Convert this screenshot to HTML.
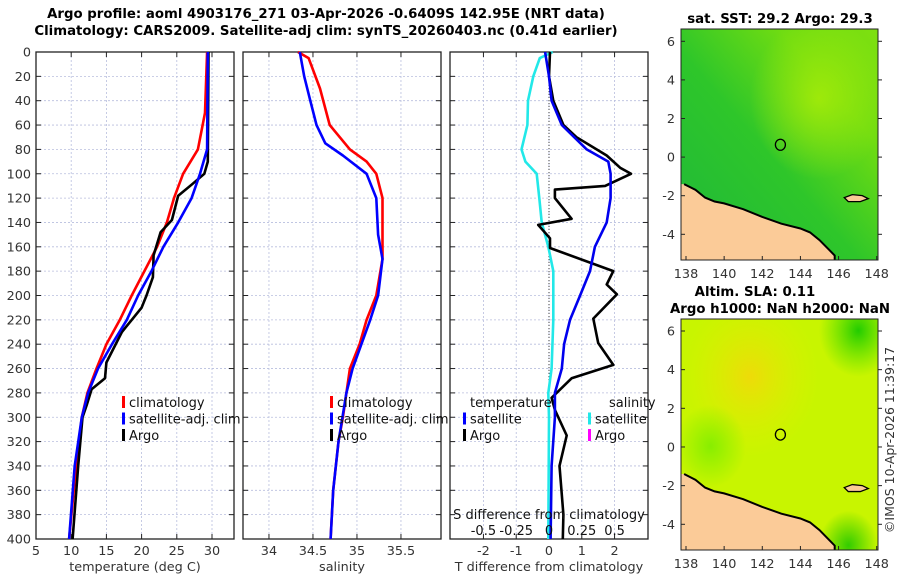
<!DOCTYPE html>
<html><head><meta charset="utf-8"><style>
html,body{margin:0;padding:0;background:#fff;}
svg{display:block;font-family:"DejaVu Sans","Liberation Sans",sans-serif;}
.tk{font-size:12.8px;fill:#333;}
.ttl{font-size:13.3px;font-weight:bold;fill:#000;}
.lg{font-size:13px;fill:#111;}
</style></head><body>
<svg id="fig" width="900" height="580" viewBox="0 0 900 580" xmlns="http://www.w3.org/2000/svg">
<defs>
<linearGradient id="sstg" x1="0" y1="1" x2="1" y2="0">
<stop offset="0" stop-color="#1fb83a"/><stop offset="0.45" stop-color="#2ec62a"/><stop offset="0.75" stop-color="#6fdc12"/><stop offset="1" stop-color="#7ee010"/></linearGradient>
<radialGradient id="sstb" cx="0.7" cy="0.3" r="0.35"><stop offset="0" stop-color="#a8ec08" stop-opacity="0.85"/><stop offset="1" stop-color="#a8ec08" stop-opacity="0"/></radialGradient>
<radialGradient id="slab" cx="0.35" cy="0.25" r="0.35"><stop offset="0" stop-color="#f2d80a" stop-opacity="0.9"/><stop offset="1" stop-color="#e0f000" stop-opacity="0"/></radialGradient>
<radialGradient id="slag" cx="0.9" cy="0.05" r="0.2"><stop offset="0" stop-color="#22cc00"/><stop offset="1" stop-color="#44dd00" stop-opacity="0"/></radialGradient>
<radialGradient id="slag2" cx="0.15" cy="0.55" r="0.18"><stop offset="0" stop-color="#88ee00"/><stop offset="1" stop-color="#88ee00" stop-opacity="0"/></radialGradient>
<radialGradient id="slag3" cx="0.85" cy="0.98" r="0.15"><stop offset="0" stop-color="#33cc00"/><stop offset="1" stop-color="#33cc00" stop-opacity="0"/></radialGradient>
</defs>
<g>
<text class="ttl" x="326" y="18" text-anchor="middle">Argo profile: aoml 4903176_271 03-Apr-2026 -0.6409S 142.95E (NRT data)</text>
<text class="ttl" x="326" y="35" text-anchor="middle">Climatology: CARS2009. Satellite-adj clim: synTS_20260403.nc (0.41d earlier)</text>
</g>
<g id="p1"></g>
<g id="p2"></g>
<g id="p3"></g>
<g id="m1"></g>
<g id="m2"></g>
<text class="tk" transform="translate(894,440) rotate(-90)" text-anchor="middle" style="font-size:12.5px">©IMOS 10-Apr-2026 11:39:17</text>
</svg>
<script>
// ---------- data ----------
const depthTicks = [0,20,40,60,80,100,120,140,160,180,200,220,240,260,280,300,320,340,360,380,400];
const tempTicks = [5,10,15,20,25,30];
const salTicks = [34,34.5,35,35.5];
const tdiffTicks = [-2,-1,0,1,2];
const sdiffTicks = [-0.5,-0.25,0,0.25,0.5];
const lonTicks = [138,140,142,144,146,148];
const latTicks = [-4,-2,0,2,4,6];

const climTdepth = [0,50,80,100,120,140,160,180,200,220,240,260,280,300,340,400];
const climT = [29.3,29.0,28.0,25.9,24.6,23.6,22.2,20.4,18.6,16.9,15.0,13.6,12.3,11.5,10.7,9.7];
const satTdepth = [0,80,100,120,140,160,180,200,220,240,260,280,300,340,400];
const satT = [29.4,29.3,28.3,27.1,25.2,23.1,21.4,19.5,17.9,15.8,13.8,12.4,11.5,10.5,9.7];
const argoTdepth = [0,90,100,109,118,138,148,167,185,200,210,220,230,255,268,277,290,300,340,400];
const argoT = [29.5,29.4,28.9,27.1,25.2,24.3,22.7,21.7,21.6,20.7,20.0,18.6,17.2,15.0,14.8,12.9,12.2,11.6,11.0,10.2];

const climSdepth = [0,5,30,60,80,90,100,120,170,200,220,240,260,300,320,360,400];
const climS = [34.33,34.45,34.58,34.69,34.92,35.11,35.22,35.29,35.29,35.22,35.11,35.03,34.92,34.84,34.79,34.73,34.70];
const satSdepth = [0,20,40,60,75,85,100,120,150,170,200,220,240,260,280,320,360,400];
const satS = [34.35,34.40,34.47,34.54,34.64,34.84,35.11,35.22,35.24,35.29,35.24,35.15,35.05,34.95,34.88,34.79,34.73,34.70];

const dTsatDepth = [0,20,40,60,80,90,100,120,140,160,180,200,220,240,260,280,300,340,400];
const dTsat = [-0.12,0,0.08,0.39,1.15,1.81,1.88,1.88,1.76,1.40,1.25,0.95,0.64,0.46,0.39,0.18,0.18,0.08,0.05];
const dTargoDepth = [0,20,40,60,70,85,95,100,110,113,120,137,142,153,161,180,191,199,219,239,257,268,284,294,315,340,380,400];
const dTargo = [0.03,0,0.13,0.44,0.84,1.76,2.17,2.5,1.71,0.18,0.18,0.69,-0.33,0.03,0.03,1.96,1.76,2.07,1.35,1.5,1.96,0.69,0.08,0.18,0.54,0.32,0.44,0.42];
const dSsatDepth = [0,5,20,40,60,80,90,100,120,140,160,180,220,260,280,300,400];
const dSsat = [0.028,-0.07,-0.12,-0.16,-0.165,-0.21,-0.18,-0.094,-0.074,-0.056,-0.005,0.033,0.033,0.02,-0.005,0,-0.005];

const coastLon = [137.9,138.5,139,139.5,140,141,142,143,144,144.5,145,145.5,145.8,145.8];
const coastLat = [-1.4,-1.7,-2.1,-2.3,-2.4,-2.7,-3.1,-3.45,-3.7,-3.9,-4.3,-4.8,-5.1,-5.35];
const floatLon = 142.95, floatLat = 0.64;

// ---------- helpers ----------
const NS='http://www.w3.org/2000/svg';
function mk(parent,tag,attrs){const e=document.createElementNS(NS,tag);for(const k in attrs)e.setAttribute(k,attrs[k]);parent.appendChild(e);return e;}
function txt(parent,x,y,s,cls,anchor){const t=mk(parent,'text',{x:x,y:y,class:cls,'text-anchor':anchor||'middle'});t.textContent=s;return t;}
const PT=52, PB=539;
const yD = d => PT + (d/400)*(PB-PT);

function panel(g,x0,x1,xmin,xmax,ticks,labels,xlabel,showY){
  const sx = v => x0 + (v-xmin)/(xmax-xmin)*(x1-x0);
  depthTicks.forEach(d=>{
    const l=mk(g,'line',{x1:x0,x2:x1,y1:yD(d),y2:yD(d),stroke:'#b8bede','stroke-width':0.8,'stroke-dasharray':'2,2'});
    
    
    mk(g,'line',{x1:x0,x2:x0+5,y1:yD(d),y2:yD(d),stroke:'#222'});
    mk(g,'line',{x1:x1-5,x2:x1,y1:yD(d),y2:yD(d),stroke:'#222'});
    if(showY){const t=txt(g,x0-5,yD(d)+4.5,String(d),'tk','end');
      
      }
  });
  ticks.forEach((v,i)=>{
    const X=sx(v);
    const l=mk(g,'line',{x1:X,x2:X,y1:PT,y2:PB,stroke:'#b8bede','stroke-width':0.8,'stroke-dasharray':'2,2'});
    
    
    mk(g,'line',{x1:X,x2:X,y1:PB-5,y2:PB,stroke:'#222'});
    mk(g,'line',{x1:X,x2:X,y1:PT,y2:PT+5,stroke:'#222'});
    if(labels){const t=txt(g,X,555,String(labels[i]),'tk');
      
      }
  });
  const r=mk(g,'rect',{x:x0,y:PT,width:x1-x0,height:PB-PT,fill:'none',stroke:'#222','stroke-width':1.3});
  
  
  const xl=txt(g,(x0+x1)/2,571,xlabel,'tk');
  
  
  return sx;
}
function line(g,sx,vals,depths,color,name,w){
  const pts=vals.map((v,i)=>sx(v).toFixed(1)+','+yD(depths[i]).toFixed(1)).join(' ');
  const p=mk(g,'polyline',{points:pts,fill:'none',stroke:color,'stroke-width':w||2.6,'stroke-linejoin':'round'});
  
  
}
function legend(g,x,y,items){
  items.forEach((it,i)=>{
    const yy=y+i*16.5;
    if(it.c) mk(g,'rect',{x:x-7,y:yy-10,width:3,height:12,fill:it.c});
    const t=txt(g,x,yy+1,it.t,'lg','start');
    
    
  });
}

// ---------- panel 1 ----------
const g1=document.getElementById('p1');
const sx1=panel(g1,36,234,5,33.125,tempTicks,tempTicks,'temperature (deg C)',true);
line(g1,sx1,climT,climTdepth,'#ff0000','climatology-temp-line');
line(g1,sx1,argoT,argoTdepth,'#000000','argo-temp-line');
line(g1,sx1,satT,satTdepth,'#0000ff','satellite-temp-line');
legend(g1,129,406,[{c:'#ff0000',t:'climatology'},{c:'#0000ff',t:'satellite-adj. clim'},{c:'#000',t:'Argo'}]);

// ---------- panel 2 ----------
const g2=document.getElementById('p2');
const sx2=panel(g2,243,441,33.705,35.955,salTicks,salTicks,'salinity',false);
line(g2,sx2,climS,climSdepth,'#ff0000','climatology-sal-line');
line(g2,sx2,satS,satSdepth,'#0000ff','satellite-sal-line');
legend(g2,337,406,[{c:'#ff0000',t:'climatology'},{c:'#0000ff',t:'satellite-adj. clim'},{c:'#000',t:'Argo'}]);

// ---------- panel 3 ----------
const g3=document.getElementById('p3');
const sx3=panel(g3,450,648,-3.02,3.02,tdiffTicks,tdiffTicks,'T difference from climatology',false);
const sxS = v => sx3(v*4);
mk(g3,'line',{x1:sx3(0),x2:sx3(0),y1:PT,y2:PB,stroke:'#444','stroke-width':1,'stroke-dasharray':'1,2'});
line(g3,sxS,dSsat,dSsatDepth,'#22e8e8','salinity-sat-diff-line');
line(g3,sx3,dTargo,dTargoDepth,'#000000','argo-temp-diff-line');
line(g3,sx3,dTsat,dTsatDepth,'#0000ee','satellite-temp-diff-line');
legend(g3,470,406,[{t:'temperature'},{c:'#0000ff',t:'satellite'},{c:'#000',t:'Argo'}]);
legend(g3,595,406,[{t:'salinity'},{c:'#22e8e8',t:'satellite'},{c:'#ff00ff',t:'Argo'}]);
g3.querySelectorAll('text.lg')[3].setAttribute('x',609);
const st=txt(g3,549,519,'S difference from climatology','lg');


sdiffTicks.forEach(v=>{const t=txt(g3,sxS(v),535,String(v),'lg');
  
  });

// ---------- maps ----------
function map(g,top,bottom,lat6y,latm4y,fillFn,titles){
  const x0=681,x1=878;
  const sx = lon => 686 + (lon-138)/10*(876.7-686);
  const sy = lat => lat6y + (6-lat)/10*(latm4y-lat6y);
  fillFn(g,x0,top,x1-x0,bottom-top);
  let pts=coastLon.map((l,i)=>sx(l).toFixed(1)+','+sy(coastLat[i]).toFixed(1));
  const land=mk(g,'polygon',{points:x0+','+sy(-1.4)+' '+pts.join(' ')+' '+x0+','+bottom,fill:'#fbcb98',stroke:'none'});
  
  
  const cl=mk(g,'polyline',{points:pts.join(' '),fill:'none',stroke:'#000','stroke-width':2});
  
  
  const isl=mk(g,'path',{d:`M${sx(146.3)},${sy(-2.1)} l8,-3 l10,1 l6,3 l-8,3 l-12,0 z`,fill:'#fbcb98',stroke:'#000','stroke-width':1.3});
  
  
  const fl=mk(g,'ellipse',{cx:sx(floatLon),cy:sy(floatLat),rx:5,ry:5.5,fill:'none',stroke:'#000','stroke-width':1.3});
  
  
  mk(g,'rect',{x:x0,y:top,width:x1-x0,height:bottom-top,fill:'none',stroke:'#222','stroke-width':1});
  lonTicks.forEach(l=>{mk(g,'line',{x1:sx(l),x2:sx(l),y1:bottom,y2:bottom-4,stroke:'#222'});
    const t=txt(g,sx(l),bottom+18,String(l),'tk');
    
    });
  latTicks.forEach(l=>{mk(g,'line',{x1:x0,x2:x0+4,y1:sy(l),y2:sy(l),stroke:'#222'});
    mk(g,'line',{x1:x1,x2:x1+4,y1:sy(l),y2:sy(l),stroke:'#222'});
    const t=txt(g,x0-6,sy(l)+4.5,String(l),'tk','end');
    
    });
  titles.forEach((s,i)=>{const t=txt(g,titles.length>1&&i==0?755:780,top-6-(titles.length-1-i)*17,s,'ttl');
    
    });
}
map(document.getElementById('m1'),29,260,41.3,234.3,(g,x,y,w,h)=>{
  mk(g,'rect',{x:x,y:y,width:w,height:h,fill:'url(#sstg)'});
  mk(g,'rect',{x:x,y:y,width:w,height:h,fill:'url(#sstb)'});
},['sat. SST: 29.2 Argo: 29.3']);
map(document.getElementById('m2'),319,550,331,524.3,(g,x,y,w,h)=>{
  mk(g,'rect',{x:x,y:y,width:w,height:h,fill:'#c8f500'});
  mk(g,'rect',{x:x,y:y,width:w,height:h,fill:'url(#slab)'});
  mk(g,'rect',{x:x,y:y,width:w,height:h,fill:'url(#slag)'});
  mk(g,'rect',{x:x,y:y,width:w,height:h,fill:'url(#slag2)'});
  mk(g,'rect',{x:x,y:y,width:w,height:h,fill:'url(#slag3)'});
},['Altim. SLA: 0.11','Argo h1000: NaN h2000: NaN']);
</script>
</body></html>
